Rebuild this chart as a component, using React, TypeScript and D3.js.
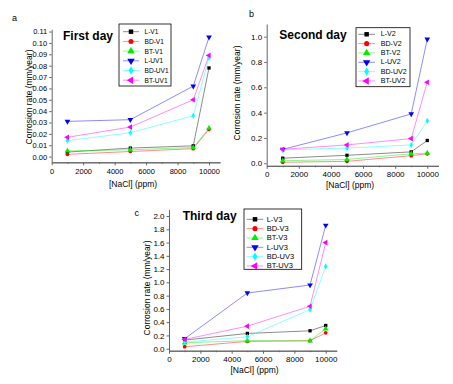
import React, { useEffect, useRef } from "react";
import * as d3 from "d3";

// [NaCl] concentrations (ppm)
const nacl = [1000, 5000, 9000, 10000];

const firstDayNames = ["L-V1", "BD-V1", "BT-V1", "L-UV1", "BD-UV1", "BT-UV1"];
const firstDayValues = [
  [0.004, 0.0075, 0.0095, 0.078],
  [0.002, 0.0045, 0.007, 0.024],
  [0.005, 0.006, 0.008, 0.025],
  [0.031, 0.0325, 0.062, 0.105],
  [0.014, 0.021, 0.036, 0.087],
  [0.017, 0.026, 0.05, 0.089],
];

const secondDayNames = ["L-V2", "BD-V2", "BT-V2", "L-UV2", "BD-UV2", "BT-UV2"];
const secondDayValues = [
  [0.04, 0.063, 0.09, 0.18],
  [0.008, 0.015, 0.06, 0.075],
  [0.02, 0.03, 0.075, 0.08],
  [0.11, 0.24, 0.39, 0.98],
  [0.105, 0.12, 0.145, 0.335],
  [0.11, 0.145, 0.195, 0.64],
];

const thirdDayNames = ["L-V3", "BD-V3", "BT-V3", "L-UV3", "BD-UV3", "BT-UV3"];
const thirdDayValues = [
  [0.13, 0.23, 0.27, 0.35],
  [0.03, 0.11, 0.12, 0.24],
  [0.09, 0.12, 0.12, 0.3],
  [0.15, 0.84, 0.96, 1.86],
  [0.1, 0.18, 0.59, 1.24],
  [0.14, 0.34, 0.64, 1.6],
];

const xTicks = [0, 2000, 4000, 6000, 8000, 10000];
const xMinorTicks = [1000, 3000, 5000, 7000, 9000];
const yTicksA = [0, 0.01, 0.02, 0.03, 0.04, 0.05, 0.06, 0.07, 0.08, 0.09, 0.1, 0.11];
const yTicksB = [0, 0.2, 0.4, 0.6, 0.8, 1.0];
const yTicksC = [0, 0.2, 0.4, 0.6, 0.8, 1.0, 1.2, 1.4, 1.6, 1.8, 2.0];

const colors = ["#000000", "#ff0000", "#00ee00", "#0000ff", "#00ffff", "#ff00ff"];
// symbol type + rotation per series
const symbols = [
  [d3.symbolSquare, 0],
  [d3.symbolCircle, 0],
  [d3.symbolTriangle, 0],
  [d3.symbolTriangle, 180],
  [d3.symbolDiamond, 0],
  [d3.symbolTriangle, -90],
];

const FONT = "'Liberation Sans', Arial, sans-serif";

const panels = [
  {
    letter: "a", letterPos: [12, 20.5],
    title: "First day", titlePos: [63, 39.5],
    names: firstDayNames, values: firstDayValues,
    left: 51.7, right: 220, top: 29.3, bottom: 162.3,
    yDomain: [-0.005, 0.112], yTicks: yTicksA, yFormat: ".2f", tickFont: 7.5,
    yTitlePos: [29, 97], xTitlePos: [133, 186.5],
    legend: { x: 119, y: 24, w: 52, h: 62, row0: 31.7, step: 9.7, lx1: 123, lx2: 139, tx: 144.5, font: 6.6 },
  },
  {
    letter: "b", letterPos: [249, 17],
    title: "Second day", titlePos: [279.3, 38.5],
    names: secondDayNames, values: secondDayValues,
    left: 266.7, right: 438.5, top: 24, bottom: 165.8,
    yDomain: [-0.02, 1.1], yTicks: yTicksB, yFormat: ".1f", tickFont: 8,
    yTitlePos: [237, 93], xTitlePos: [350, 187.5],
    legend: { x: 356, y: 27.7, w: 54, h: 59, row0: 34.3, step: 9.33, lx1: 358.3, lx2: 375, tx: 380.7, font: 7.1 },
  },
  {
    letter: "c", letterPos: [134.5, 216],
    title: "Third day", titlePos: [182.7, 219.5],
    names: thirdDayNames, values: thirdDayValues,
    left: 169, right: 336.7, top: 209.4, bottom: 350.7,
    yDomain: [-0.03, 2.1], yTicks: yTicksC, yFormat: ".1f", tickFont: 8,
    yTitlePos: [147, 288], xTitlePos: [254.5, 373],
    legend: { x: 244, y: 209, w: 57.7, h: 60.3, row0: 219.3, step: 9.33, lx1: 246.7, lx2: 263.3, tx: 266.7, font: 7.5 },
  },
];

function drawPanel(svg, p) {
  const x = d3.scaleLinear().domain([0, 10700]).range([p.left, p.right]);
  const y = d3.scaleLinear().domain(p.yDomain).range([p.bottom, p.top]);
  const g = svg.append("g");

  const styleAxis = (ax) => {
    ax.attr("font-family", FONT).attr("font-size", p.tickFont);
    ax.select(".domain").attr("stroke", "#666").attr("stroke-width", 1);
    ax.selectAll(".tick line").attr("stroke", "#666");
    ax.selectAll("text").attr("fill", "#000");
  };

  // x axis
  g.append("g")
    .attr("transform", `translate(0,${p.bottom})`)
    .call(d3.axisBottom(x).tickValues(xTicks).tickFormat(d3.format("d")).tickSize(3).tickSizeOuter(0).tickPadding(3))
    .call(styleAxis);
  g.append("g")
    .attr("transform", `translate(0,${p.bottom})`)
    .call(d3.axisBottom(x).tickValues(xMinorTicks).tickFormat(() => "").tickSize(1.5).tickSizeOuter(0))
    .call(styleAxis);

  // y axis
  g.append("g")
    .attr("transform", `translate(${p.left},0)`)
    .call(d3.axisLeft(y).tickValues(p.yTicks).tickFormat(d3.format(p.yFormat)).tickSize(2.5).tickSizeOuter(0).tickPadding(2))
    .call(styleAxis);

  // axis titles
  g.append("text")
    .attr("x", p.xTitlePos[0]).attr("y", p.xTitlePos[1])
    .attr("text-anchor", "middle")
    .attr("font-family", FONT).attr("font-size", 8.5)
    .text("[NaCl] (ppm)");
  g.append("text")
    .attr("transform", `translate(${p.yTitlePos[0]},${p.yTitlePos[1]}) rotate(-90)`)
    .attr("text-anchor", "middle")
    .attr("dominant-baseline", "central")
    .attr("font-family", FONT).attr("font-size", 8.5)
    .text("Corrosion rate (mm/year)");

  // panel letter and title
  g.append("text")
    .attr("x", p.letterPos[0]).attr("y", p.letterPos[1])
    .attr("font-family", FONT).attr("font-size", 9)
    .text(p.letter);
  g.append("text")
    .attr("x", p.titlePos[0]).attr("y", p.titlePos[1])
    .attr("font-family", FONT).attr("font-size", 12).attr("font-weight", "bold")
    .text(p.title);

  const line = d3.line().x((d, i) => x(nacl[i])).y(d => y(d));

  p.values.forEach((vals, si) => {
    g.append("path")
      .attr("d", line(vals))
      .attr("fill", "none")
      .attr("stroke", colors[si])
      .attr("stroke-opacity", 0.45)
      .attr("stroke-width", 1);
  });
  p.values.forEach((vals, si) => {
    const [type, rot] = symbols[si];
    g.selectAll(null)
      .data(vals)
      .join("path")
      .attr("d", d3.symbol().type(type).size(type === d3.symbolTriangle ? 14 : 11))
      .attr("transform", (d, i) => `translate(${x(nacl[i])},${y(d)}) rotate(${rot})`)
      .attr("fill", colors[si]);
  });

  // legend
  const L = p.legend;
  const lg = g.append("g");
  lg.append("rect")
    .attr("x", L.x).attr("y", L.y).attr("width", L.w).attr("height", L.h)
    .attr("fill", "#fff").attr("stroke", "#000").attr("stroke-width", 0.8);
  p.names.forEach((name, si) => {
    const ry = L.row0 + si * L.step;
    const [type, rot] = symbols[si];
    lg.append("line")
      .attr("x1", L.lx1).attr("x2", L.lx2).attr("y1", ry).attr("y2", ry)
      .attr("stroke", colors[si]).attr("stroke-opacity", 0.45);
    lg.append("path")
      .attr("d", d3.symbol().type(type).size(type === d3.symbolTriangle ? 24 : 20)())
      .attr("transform", `translate(${(L.lx1 + L.lx2) / 2},${ry}) rotate(${rot})`)
      .attr("fill", colors[si]);
    lg.append("text")
      .attr("x", L.tx).attr("y", ry)
      .attr("dominant-baseline", "central")
      .attr("font-family", FONT).attr("font-size", L.font)
      .text(name);
  });
}

export default function App() {
  const ref = useRef(null);

  useEffect(() => {
    const svg = d3.select(ref.current);
    svg.selectAll("*").remove();
    panels.forEach(p => drawPanel(svg, p));
  }, []);

  return (
    <svg
      ref={ref}
      width={453}
      height={384}
      style={{ position: "absolute", left: 0, top: 0, background: "#fff" }}
    />
  );
}
